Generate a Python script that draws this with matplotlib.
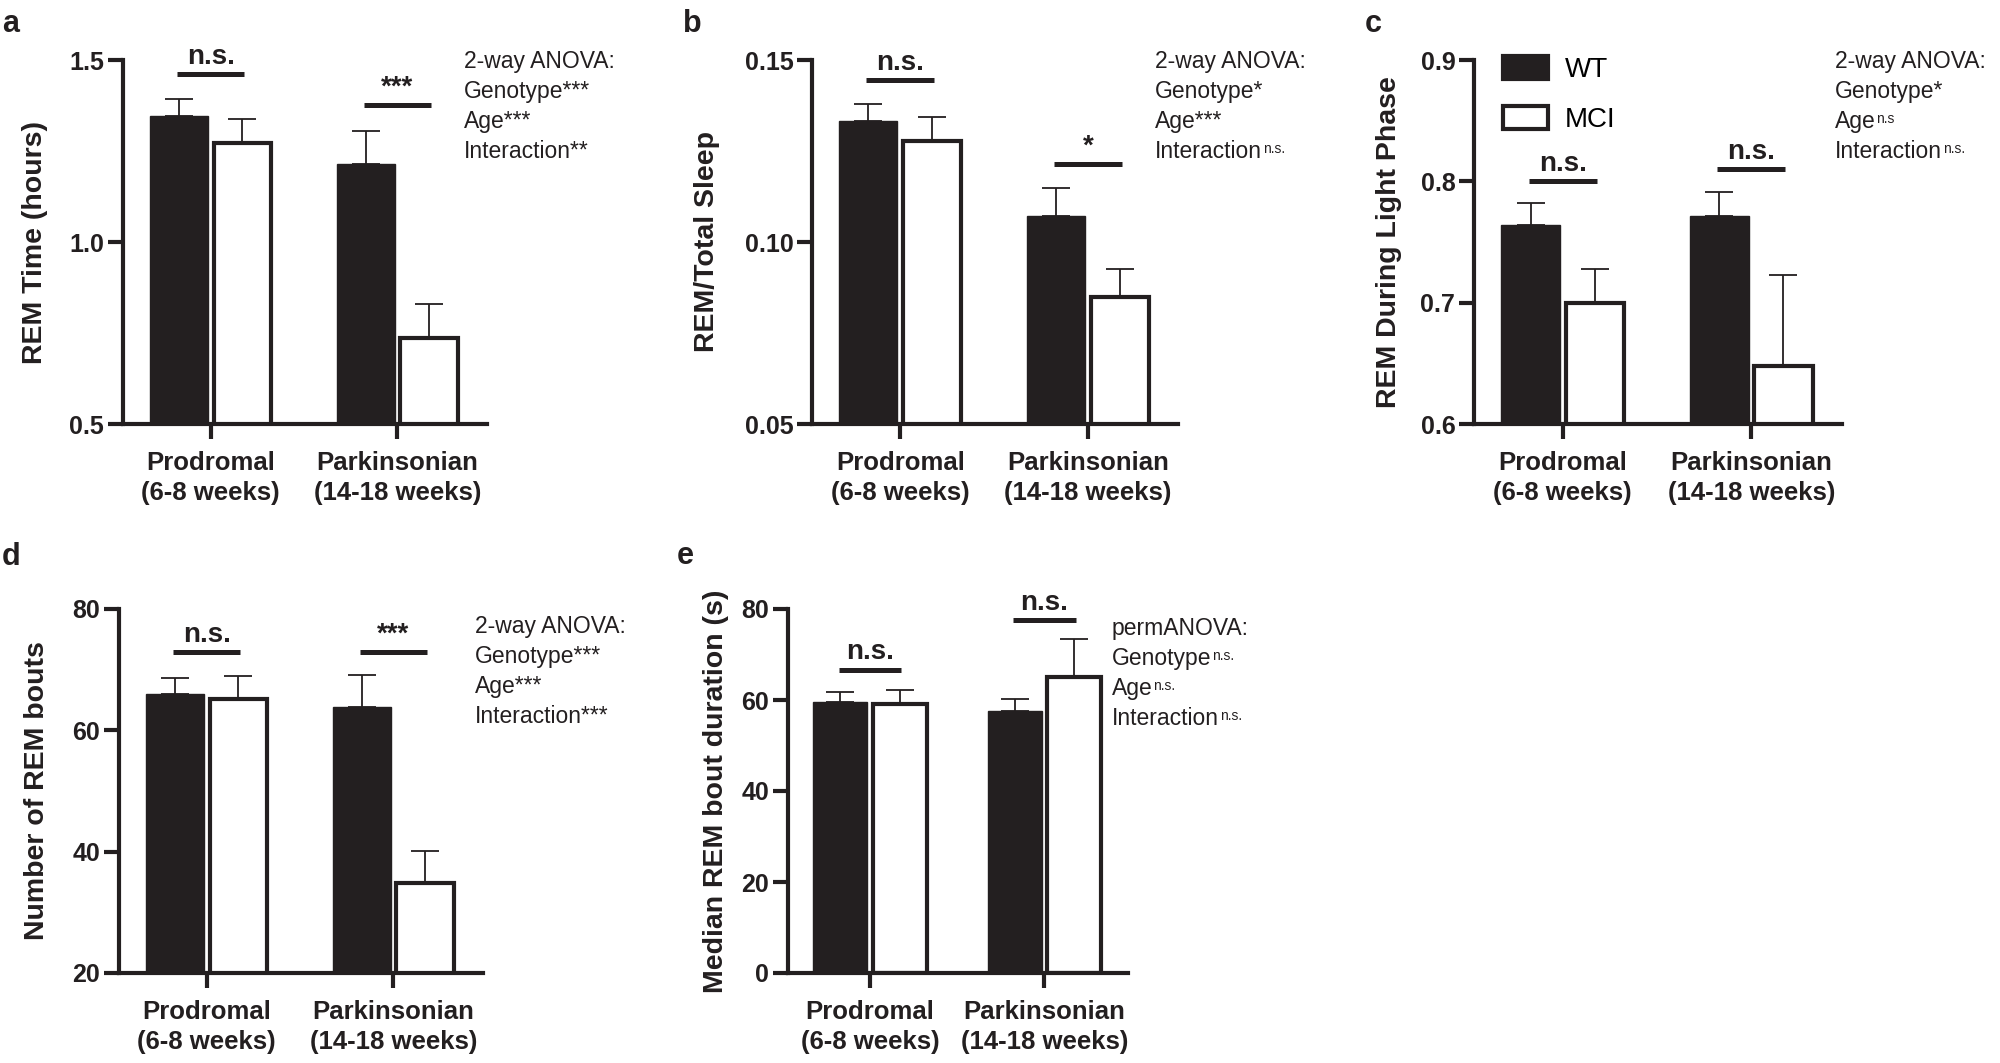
import numpy as np
import matplotlib
matplotlib.use("Agg")
import matplotlib.pyplot as plt
from matplotlib.patches import Patch

plt.rcParams["font.family"] = ["Liberation Sans", "DejaVu Sans"]

# ─────────────────────────────────────────
# Data
# ─────────────────────────────────────────

groups = ["Prodromal\n(6-8 weeks)", "Parkinsonian\n(14-18 weeks)"]
genotypes = ["WT", "MCI"]

# a - REM time (hours)
a_wt = [1.345, 1.215]
a_wt_err = [0.048, 0.091]
a_mci = [1.271, 0.737]
a_mci_err = [0.067, 0.093]

# b - REM / total sleep
b_wt = [0.1333, 0.1072]
b_wt_err = [0.0046, 0.0075]
b_mci = [0.1277, 0.0848]
b_mci_err = [0.0066, 0.0077]

# c - REM during light phase
c_wt = [0.7637, 0.7714]
c_wt_err = [0.0187, 0.0195]
c_mci = [0.6995, 0.6480]
c_mci_err = [0.0285, 0.0745]

# d - number of REM bouts
d_wt = [66.0, 63.8]
d_wt_err = [2.7, 5.4]
d_mci = [65.2, 34.8]
d_mci_err = [3.8, 5.3]

# e - median REM bout duration (s)
e_wt = [59.6, 57.5]
e_wt_err = [2.2, 2.7]
e_mci = [59.1, 65.1]
e_mci_err = [3.2, 8.2]

# pairwise markers per group and the height of their bars
a_sig = ["n.s.", "***"]
a_sig_y = [1.462, 1.377]
b_sig = ["n.s.", "*"]
b_sig_y = [0.1445, 0.1214]
c_sig = ["n.s.", "n.s."]
c_sig_y = [0.800, 0.810]
d_sig = ["n.s.", "***"]
d_sig_y = [72.9, 72.9]
e_sig = ["n.s.", "n.s."]
e_sig_y = [66.7, 77.6]

# ANOVA summaries: main text and its superscript
a_stats = ["2-way ANOVA:", "Genotype***", "Age***", "Interaction**"]
a_sup = ["", "", "", ""]
b_stats = ["2-way ANOVA:", "Genotype*", "Age***", "Interaction"]
b_sup = ["", "", "", "n.s."]
c_stats = ["2-way ANOVA:", "Genotype*", "Age", "Interaction"]
c_sup = ["", "", "n.s", "n.s."]
d_stats = ["2-way ANOVA:", "Genotype***", "Age***", "Interaction***"]
d_sup = ["", "", "", ""]
e_stats = ["permANOVA:", "Genotype", "Age", "Interaction"]
e_sup = ["", "n.s.", "n.s.", "n.s."]

INK = "#231f20"
W, H = 2000, 1063
BAR_W = 0.31
OFF = 0.17


def rect(left, right, top, bottom):
    """Pixel box -> figure fraction box."""
    return [left / W, 1 - bottom / H, (right - left) / W, (bottom - top) / H]


def draw_panel(ax, wt, wt_err, mci, mci_err, ylim, yticks, yticklabels,
               ylabel, sig, sig_y, ylabel_x):
    x = np.arange(len(groups))
    ax.bar(x - OFF, wt, BAR_W, color=INK, edgecolor=INK, linewidth=1, zorder=2)
    ax.bar(x + OFF, mci, BAR_W, color="white", edgecolor=INK, linewidth=3, zorder=2)
    for xs, v, e in [(x - OFF, wt, wt_err), (x + OFF, mci, mci_err)]:
        ax.errorbar(xs, v, yerr=[np.zeros(len(e)), e], fmt="none", ecolor=INK,
                    elinewidth=1.3, capsize=10, capthick=1.3, zorder=1)

    # significance bars between WT and MCI within each age group
    for xi, lab, yy in zip(x, sig, sig_y):
        ax.plot([xi - 0.18, xi + 0.18], [yy, yy], color=INK, lw=3.6,
                solid_capstyle="butt", clip_on=False)
        ax.annotate(lab, (xi, yy), xytext=(0, 3), textcoords="offset points",
                    ha="center", va="bottom", fontsize=20, fontweight="bold",
                    color=INK, annotation_clip=False)

    ax.set_xlim(-0.47, 1.48)
    ax.set_ylim(*ylim)
    ax.set_yticks(yticks)
    ax.set_yticklabels(yticklabels)
    ax.set_xticks(x)
    ax.set_xticklabels(groups, linespacing=1.3)
    ax.set_ylabel(ylabel, fontsize=20.5, fontweight="bold", color=INK)
    ax.yaxis.set_label_coords(ylabel_x, 0.5)

    for side in ["top", "right"]:
        ax.spines[side].set_visible(False)
    for side in ["left", "bottom"]:
        ax.spines[side].set_linewidth(3)
        ax.spines[side].set_color(INK)
    ax.tick_params(axis="both", direction="out", length=10.5, width=3, color=INK,
                   labelsize=18, labelcolor=INK)
    ax.tick_params(axis="y", pad=3)
    ax.tick_params(axis="x", pad=9, labelsize=18.5)
    for lab in ax.get_xticklabels() + ax.get_yticklabels():
        lab.set_fontweight("bold")


def stats_text(fig, ax, lines, sups, x_px, y_px, step=30):
    for i, (line, sup) in enumerate(zip(lines, sups)):
        t = fig.text(x_px / W, 1 - (y_px + i * step) / H, line, fontsize=16.5,
                     color=INK, ha="left", va="baseline")
        if sup:
            ax.annotate(sup, xy=(1, 0.92), xycoords=t, xytext=(0.5, 0),
                        textcoords="offset points", ha="left", va="top",
                        fontsize=10, color=INK)


fig = plt.figure(figsize=(20, 10.63), dpi=100)

ax_a = fig.add_axes(rect(123, 487, 60, 424))
draw_panel(ax_a, a_wt, a_wt_err, a_mci, a_mci_err, (0.5, 1.5),
           [0.5, 1.0, 1.5], ["0.5", "1.0", "1.5"], "REM Time (hours)",
           a_sig, a_sig_y, -0.205)

ax_b = fig.add_axes(rect(812, 1178, 60, 424))
draw_panel(ax_b, b_wt, b_wt_err, b_mci, b_mci_err, (0.05, 0.15),
           [0.05, 0.10, 0.15], ["0.05", "0.10", "0.15"], "REM/Total Sleep",
           b_sig, b_sig_y, -0.25)

ax_c = fig.add_axes(rect(1474, 1842, 60, 424))
draw_panel(ax_c, c_wt, c_wt_err, c_mci, c_mci_err, (0.6, 0.9),
           [0.6, 0.7, 0.8, 0.9], ["0.6", "0.7", "0.8", "0.9"],
           "REM During Light Phase", c_sig, c_sig_y, -0.196)

ax_d = fig.add_axes(rect(119, 483, 609, 973))
draw_panel(ax_d, d_wt, d_wt_err, d_mci, d_mci_err, (20, 80),
           [20, 40, 60, 80], ["20", "40", "60", "80"], "Number of REM bouts",
           d_sig, d_sig_y, -0.19)

ax_e = fig.add_axes(rect(788, 1128, 609, 973))
draw_panel(ax_e, e_wt, e_wt_err, e_mci, e_mci_err, (0, 80),
           [0, 20, 40, 60, 80], ["0", "20", "40", "60", "80"],
           "Median REM bout duration (s)", e_sig, e_sig_y, -0.174)

# legend in panel c
handles = [Patch(facecolor=INK, edgecolor=INK, linewidth=3),
           Patch(facecolor="white", edgecolor=INK, linewidth=3)]
ax_c.legend(handles, genotypes, loc="upper left", bbox_to_anchor=(0.08, 1.012),
            frameon=False, fontsize=20, handlelength=1.6, handleheight=0.9,
            handletextpad=0.6, labelspacing=0.85, borderpad=0, borderaxespad=0)

stats_text(fig, ax_a, a_stats, a_sup, 464, 68)
stats_text(fig, ax_b, b_stats, b_sup, 1155, 68)
stats_text(fig, ax_c, c_stats, c_sup, 1835, 68)
stats_text(fig, ax_d, d_stats, d_sup, 475, 633)
stats_text(fig, ax_e, e_stats, e_sup, 1112, 635)

for letter, x_px, y_px in [("a", 2, 32), ("b", 683, 32), ("c", 1365, 32),
                           ("d", 2, 565), ("e", 677, 564)]:
    fig.text(x_px / W, 1 - y_px / H, letter, fontsize=22, fontweight="bold",
             color=INK, ha="left", va="baseline")

fig.savefig("out.png", dpi=100)
plt.close(fig)
